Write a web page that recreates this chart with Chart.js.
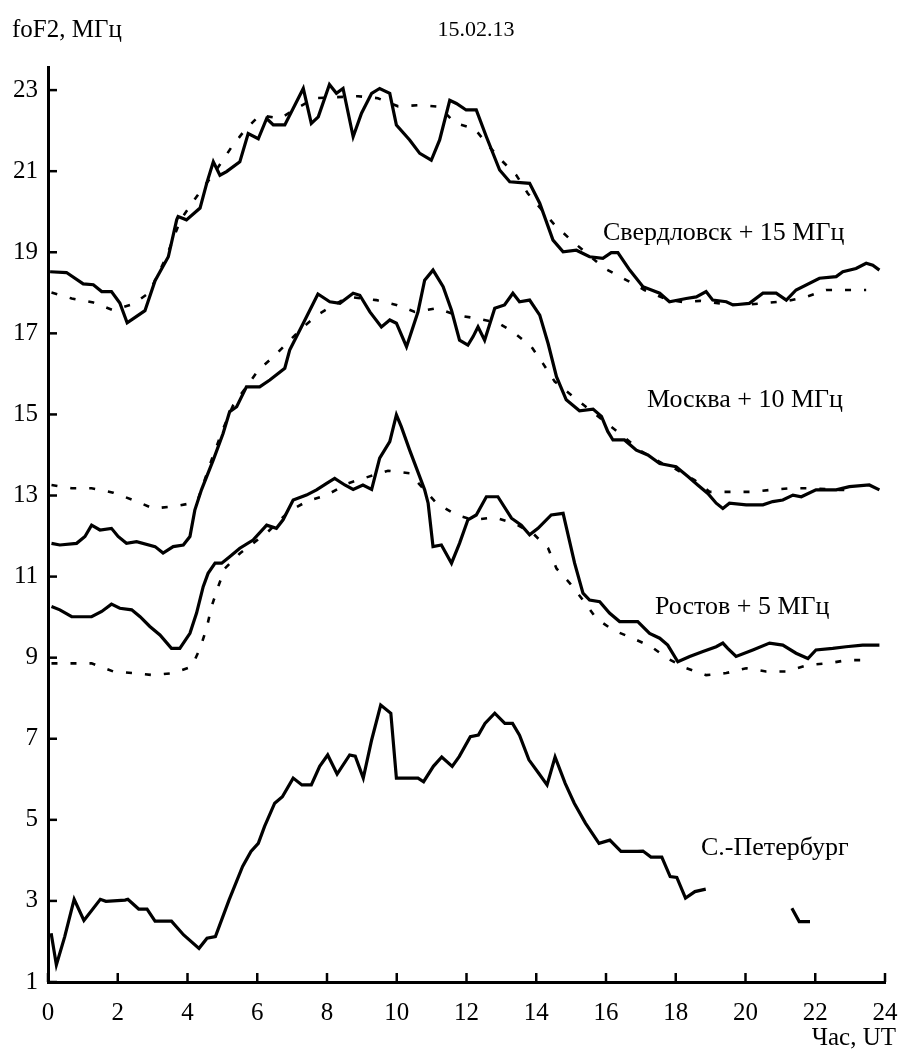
<!DOCTYPE html>
<html>
<head>
<meta charset="utf-8">
<script src="https://cdn.jsdelivr.net/npm/chart.js@4.4.1/dist/chart.umd.min.js"></script>
<style>
  html, body { margin: 0; padding: 0; background: #fff; }
  #wrap { width: 900px; height: 1050px; position: relative; }
</style>
</head>
<body>
<div id="wrap"><canvas id="c" width="900" height="1050"></canvas></div>
<script>
// ---- Data (values as plotted, offsets included) ----
const xTickLabels = [0, 2, 4, 6, 8, 10, 12, 14, 16, 18, 20, 22, 24];
const yTickLabels = [1, 3, 5, 7, 9, 11, 13, 15, 17, 19, 21, 23];

const sverdlovskHours = [0.06,0.53,1.01,1.3,1.54,1.82,2.06,2.27,2.54,2.78,3.07,3.45,3.69,3.73,3.97,4.36,4.55,4.74,4.93,5.12,5.5,5.74,6.03,6.27,6.46,6.79,7.32,7.55,7.75,8.07,8.27,8.46,8.75,8.99,9.28,9.51,9.8,9.99,10.37,10.66,10.99,11.23,11.52,11.71,11.99,12.28,12.57,12.95,13.24,13.81,14.1,14.48,14.77,15.15,15.53,15.91,16.15,16.34,16.68,17.06,17.54,17.82,18.3,18.59,18.87,19.06,19.45,19.64,20.11,20.5,20.88,21.17,21.45,22.12,22.6,22.79,23.17,23.46,23.65,23.84];
const sverdlovskValues = [18.52,18.5,18.22,18.2,18.03,18.03,17.75,17.26,17.42,17.56,18.3,18.89,19.8,19.88,19.8,20.09,20.7,21.23,20.9,20.99,21.23,21.93,21.8,22.3,22.14,22.14,23.04,22.18,22.34,23.14,22.92,23.04,21.85,22.43,22.92,23.04,22.92,22.14,21.77,21.44,21.27,21.77,22.75,22.67,22.51,22.51,21.85,21.03,20.74,20.7,20.21,19.3,19.01,19.05,18.89,18.85,18.99,18.99,18.56,18.15,17.99,17.78,17.86,17.9,18.03,17.82,17.78,17.7,17.74,17.99,17.99,17.82,18.07,18.36,18.4,18.52,18.6,18.73,18.68,18.56];

const sverdlovskMedianHours = [0.1,0.68,1.3,1.87,2.44,2.9,3.4,3.8,4.26,4.8,5.26,5.64,6.07,6.65,7.13,7.65,8.89,9.46,10.04,10.66,11.23,11.66,12.23,12.62,13.0,13.43,13.76,14.53,15.0,15.96,16.53,17.1,17.7,18.2,18.7,19.4,19.95,20.6,21.2,21.74,22.31,22.9,23.46];
const sverdlovskMedianValues = [18.01,17.86,17.76,17.57,17.72,18.0,18.9,19.8,20.37,21.0,21.59,22.01,22.38,22.3,22.55,22.8,22.85,22.8,22.6,22.63,22.59,22.19,22.05,21.64,21.27,20.9,20.45,19.67,19.3,18.6,18.34,18.07,17.85,17.77,17.8,17.72,17.7,17.75,17.8,17.9,18.07,18.07,18.07];

const moscowHours = [0.1,0.34,0.82,1.06,1.25,1.49,1.82,2.01,2.25,2.54,3.07,3.3,3.59,3.88,4.07,4.21,4.4,4.74,5.02,5.21,5.41,5.69,6.07,6.36,6.79,6.93,7.32,7.74,8.08,8.37,8.75,8.94,9.23,9.56,9.8,9.99,10.28,10.61,10.8,11.04,11.33,11.57,11.8,12.04,12.19,12.33,12.52,12.81,13.09,13.33,13.52,13.81,14.1,14.34,14.58,14.86,15.24,15.63,15.87,16.05,16.2,16.53,16.87,17.2,17.54,18.01,18.35,18.63,18.92,19.16,19.35,19.54,20.02,20.5,20.78,21.07,21.36,21.6,22.02,22.6,22.98,23.55,23.84];
const moscowValues = [11.82,11.78,11.82,11.99,12.27,12.15,12.19,11.99,11.82,11.86,11.74,11.58,11.74,11.78,11.99,12.64,13.14,13.88,14.53,15.07,15.19,15.68,15.68,15.85,16.14,16.59,17.25,17.97,17.78,17.74,17.99,17.94,17.53,17.16,17.33,17.25,16.67,17.53,18.31,18.56,18.15,17.57,16.83,16.71,16.92,17.16,16.83,17.62,17.7,17.99,17.78,17.82,17.45,16.75,15.93,15.36,15.09,15.13,14.95,14.58,14.37,14.37,14.12,14.0,13.79,13.71,13.47,13.26,13.05,12.81,12.68,12.81,12.77,12.77,12.85,12.89,13.01,12.97,13.14,13.14,13.22,13.26,13.14];

const moscowMedianHours = [0.1,0.68,1.25,1.87,2.44,3.02,3.59,4.12,4.3,4.7,5.0,5.31,6.03,6.46,6.89,7.32,7.79,8.6,9.42,9.99,10.52,11.14,11.71,12.28,12.9,13.33,13.86,14.19,14.53,15.0,15.7,16.39,17.0,17.6,18.0,18.54,18.97,19.54,20.16,20.74,21.31,21.93,22.55,22.9];
const moscowMedianValues = [13.26,13.18,13.18,13.07,12.89,12.68,12.73,12.81,12.9,13.9,14.6,15.23,16.09,16.42,16.79,17.16,17.49,17.9,17.82,17.7,17.53,17.62,17.45,17.37,17.26,17.04,16.67,16.26,15.81,15.48,15.0,14.53,14.1,13.8,13.65,13.38,13.09,13.09,13.09,13.14,13.18,13.18,13.14,13.14];

const rostovHours = [0.1,0.34,0.68,1.25,1.54,1.82,2.06,2.4,2.64,2.92,3.21,3.54,3.78,4.07,4.26,4.45,4.59,4.79,4.98,5.21,5.5,5.88,6.27,6.55,6.74,7.03,7.41,7.7,7.99,8.22,8.51,8.75,9.03,9.28,9.51,9.8,9.99,10.13,10.37,10.66,10.8,10.9,11.04,11.28,11.57,11.8,12.04,12.28,12.57,12.9,13.29,13.57,13.81,14.05,14.43,14.77,15.1,15.34,15.53,15.82,16.1,16.39,16.91,17.25,17.54,17.77,18.06,18.4,18.78,19.16,19.35,19.49,19.73,20.21,20.69,21.07,21.45,21.79,22.02,22.5,22.88,23.36,23.84];
const rostovValues = [10.26,10.18,10.01,10.01,10.14,10.32,10.22,10.18,10.01,9.77,9.56,9.23,9.23,9.6,10.1,10.75,11.08,11.33,11.33,11.49,11.7,11.9,12.27,12.19,12.4,12.89,13.01,13.14,13.3,13.42,13.26,13.15,13.26,13.15,13.92,14.33,14.99,14.7,14.12,13.46,13.14,12.81,11.74,11.78,11.33,11.82,12.4,12.52,12.97,12.97,12.44,12.27,12.03,12.19,12.52,12.56,11.33,10.59,10.42,10.38,10.1,9.89,9.89,9.6,9.48,9.31,8.9,9.03,9.15,9.27,9.36,9.23,9.03,9.19,9.36,9.31,9.11,8.98,9.19,9.23,9.27,9.31,9.31];

const rostovMedianHours = [0.1,0.68,1.25,1.87,2.44,3.02,3.59,4.12,4.36,4.55,4.69,4.88,5.07,5.5,6.3,6.9,7.41,7.99,8.6,9.18,9.75,10.37,10.71,11.14,11.71,12.19,12.81,13.4,13.9,14.34,14.58,14.96,15.34,15.72,16.2,16.77,17.3,17.77,18.3,18.87,19.45,20.02,20.59,21.17,21.79,22.36,22.93,23.5];
const rostovMedianValues = [8.86,8.86,8.86,8.66,8.62,8.57,8.62,8.78,9.23,9.73,10.26,10.75,11.2,11.57,12.1,12.6,12.85,13.01,13.3,13.46,13.61,13.55,13.22,12.81,12.52,12.4,12.46,12.3,12.07,11.7,11.2,10.84,10.42,9.97,9.68,9.48,9.27,8.98,8.74,8.57,8.62,8.74,8.66,8.66,8.82,8.86,8.94,8.94];

const petersburgHours = [0.09,0.24,0.48,0.75,1.03,1.5,1.66,2.21,2.29,2.6,2.84,3.07,3.54,3.89,4.33,4.56,4.8,5.19,5.58,5.82,6.03,6.21,6.5,6.72,7.03,7.28,7.55,7.79,8.02,8.29,8.65,8.81,9.04,9.28,9.54,9.83,9.99,10.61,10.77,11.05,11.29,11.59,11.79,12.11,12.34,12.53,12.81,13.1,13.32,13.52,13.79,14.07,14.31,14.54,14.83,15.09,15.41,15.8,16.11,16.43,16.9,17.06,17.29,17.6,17.84,18.03,18.28,18.55,18.86,20.0,21.33,21.54,21.85];
const petersburgValues = [2.2,1.42,2.12,3.04,2.52,3.04,2.99,3.02,3.04,2.8,2.8,2.5,2.5,2.16,1.83,2.08,2.12,3.02,3.85,4.22,4.42,4.84,5.41,5.57,6.03,5.86,5.86,6.32,6.6,6.13,6.6,6.57,6.03,6.97,7.83,7.63,6.03,6.03,5.94,6.32,6.55,6.32,6.56,7.05,7.09,7.38,7.63,7.38,7.38,7.09,6.48,6.15,5.86,6.55,5.9,5.41,4.92,4.42,4.5,4.22,4.22,4.23,4.08,4.08,3.6,3.58,3.07,3.23,3.29,null,2.82,2.49,2.49];

const stationLabels = ['Свердловск + 15 МГц', 'Москва + 10 МГц', 'Ростов + 5 МГц', 'С.-Петербург'];

// ---- Build datasets ----
function pts(xs, ys) { return xs.map((x, i) => ({ x: x, y: ys[i] })); }
function solid(label, xs, ys) {
  return { label, data: pts(xs, ys), borderColor: '#000', borderWidth: 3.2, pointRadius: 0, tension: 0, fill: false, spanGaps: false };
}
function dotted(label, xs, ys) {
  return { label, data: pts(xs, ys), borderColor: '#000', borderWidth: 2.6, borderDash: [6, 13], pointRadius: 0, tension: 0, fill: false };
}

const FONT = '"Liberation Serif", "Times New Roman", serif';

const annotPlugin = {
  id: 'annot',
  afterDraw(chart) {
    const ctx = chart.ctx;
    const xs = chart.scales.x, ys = chart.scales.y;
    ctx.save();
    // inward tick marks
    ctx.strokeStyle = '#000';
    ctx.lineWidth = 2.5;
    xTickLabels.forEach(v => {
      const px = xs.getPixelForValue(v);
      ctx.beginPath(); ctx.moveTo(px, ys.bottom); ctx.lineTo(px, ys.bottom - 9); ctx.stroke();
    });
    yTickLabels.forEach(v => {
      const py = ys.getPixelForValue(v);
      ctx.beginPath(); ctx.moveTo(xs.left, py); ctx.lineTo(xs.left + 9, py); ctx.stroke();
    });
    // texts
    ctx.fillStyle = '#000';
    ctx.textBaseline = 'middle';
    ctx.font = '25px ' + FONT;
    ctx.textAlign = 'left';
    ctx.fillText('foF2, МГц', 12, 30);
    ctx.font = '22px ' + FONT;
    ctx.textAlign = 'center';
    ctx.fillText('15.02.13', 476, 30);
    ctx.font = '25px ' + FONT;
    ctx.textAlign = 'right';
    ctx.fillText('Час, UT', 896, 1038);
    ctx.textAlign = 'left';
    ctx.font = '26px ' + FONT;
    ctx.fillText(stationLabels[0], 603, 233);
    ctx.fillText(stationLabels[1], 647, 400);
    ctx.fillText(stationLabels[2], 655, 607);
    ctx.fillText(stationLabels[3], 701, 848);
    ctx.restore();
  }
};

new Chart(document.getElementById('c'), {
  type: 'line',
  data: {
    datasets: [
      dotted('Свердловск медиана', sverdlovskMedianHours, sverdlovskMedianValues),
      dotted('Москва медиана', moscowMedianHours, moscowMedianValues),
      dotted('Ростов медиана', rostovMedianHours, rostovMedianValues),
      solid(stationLabels[0], sverdlovskHours, sverdlovskValues),
      solid(stationLabels[1], moscowHours, moscowValues),
      solid(stationLabels[2], rostovHours, rostovValues),
      solid(stationLabels[3], petersburgHours, petersburgValues)
    ]
  },
  options: {
    responsive: false,
    animation: false,
    devicePixelRatio: 1,
    layout: { padding: { top: 67, right: 15, left: 0, bottom: 0 } },
    plugins: { legend: { display: false }, tooltip: { enabled: false } },
    scales: {
      x: {
        type: 'linear', min: 0, max: 24,
        afterFit: s => { s.height = 68; s.paddingRight = 0; s.paddingLeft = 0; },
        afterBuildTicks: s => { s.ticks = xTickLabels.map(v => ({ value: v })); },
        grid: { display: false, drawTicks: false },
        border: { display: true, color: '#000', width: 3 },
        ticks: { color: '#000', padding: 16, maxRotation: 0, autoSkip: false, font: { family: FONT, size: 25 } }
      },
      y: {
        type: 'linear', min: 1, max: 23.57,
        afterFit: s => { s.width = 48; s.paddingTop = 0; s.paddingBottom = 0; },
        afterBuildTicks: s => { s.ticks = yTickLabels.map(v => ({ value: v })); },
        grid: { display: false, drawTicks: false },
        border: { display: true, color: '#000', width: 3 },
        ticks: { color: '#000', padding: 10, autoSkip: false, font: { family: FONT, size: 25 } }
      }
    }
  },
  plugins: [annotPlugin]
});
</script>
</body>
</html>
